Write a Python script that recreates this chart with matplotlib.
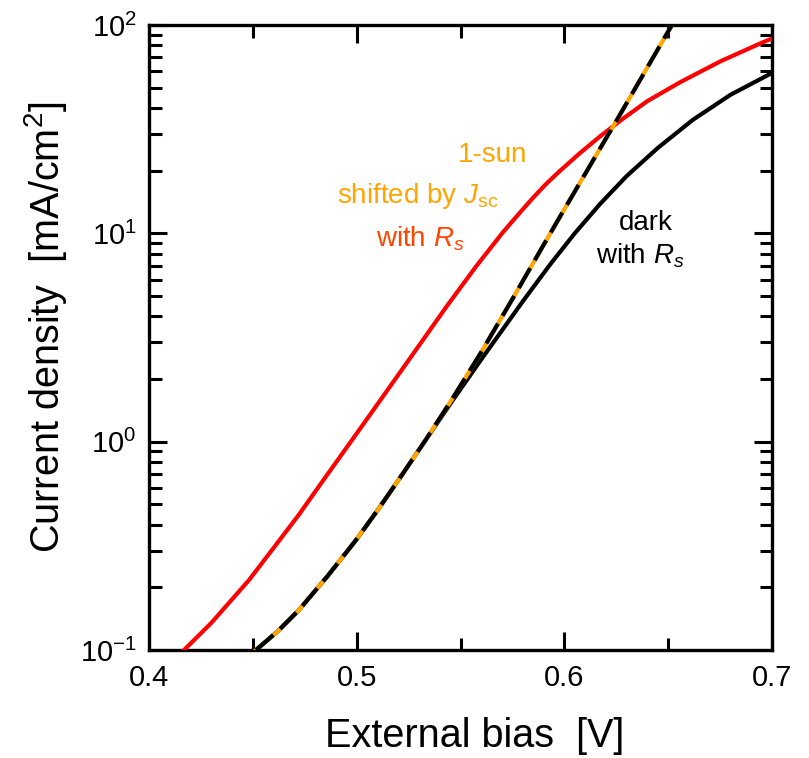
import matplotlib
matplotlib.use("Agg")
import matplotlib.pyplot as plt
from matplotlib.ticker import LogLocator, MultipleLocator, NullFormatter, FuncFormatter

plt.rcParams['font.family'] = ['Liberation Sans', 'DejaVu Sans']
plt.rcParams['mathtext.fontset'] = 'custom'
plt.rcParams['mathtext.rm'] = 'Liberation Sans'
plt.rcParams['mathtext.it'] = 'Liberation Sans:italic'
plt.rcParams['mathtext.bf'] = 'Liberation Sans:bold'

# 1-sun, shifted by Jsc, with Rs (red)  -- log10(J [mA/cm2])
v_light = [0.4169, 0.430, 0.4481, 0.460, 0.4722, 0.485, 0.4997, 0.515, 0.5285,
           0.543, 0.5574, 0.570, 0.5775, 0.5844, 0.591, 0.5979, 0.6075, 0.6175,
           0.6282, 0.640, 0.6557, 0.675, 0.6951, 0.700]
logj_light = [-1.0, -0.87, -0.665, -0.51, -0.35, -0.17, 0.035, 0.25, 0.44,
              0.645, 0.84, 1.00, 1.087, 1.165, 1.235, 1.30, 1.385, 1.468,
              1.55, 1.635, 1.725, 1.825, 1.915, 1.935]

# dark with Rs (black solid)
v_dark = [0.4515, 0.462, 0.4722, 0.486, 0.4997, 0.510, 0.5204, 0.533, 0.546,
          0.560, 0.5801, 0.5931, 0.605, 0.6171, 0.630, 0.645, 0.6619, 0.680, 0.700]
logj_dark = [-1.0, -0.91, -0.808, -0.645, -0.472, -0.33, -0.18, 0.005, 0.195,
             0.395, 0.675, 0.85, 1.0, 1.14, 1.275, 1.41, 1.545, 1.665, 1.77]

# dark without Rs (orange/black dashed)
v_ideal = [0.4515, 0.462, 0.4722, 0.486, 0.4997, 0.510, 0.5204, 0.533, 0.546,
           0.560, 0.5753, 0.5883, 0.5979, 0.6268, 0.6518, 0.660]
logj_ideal = [-1.0, -0.91, -0.808, -0.645, -0.472, -0.33, -0.18, 0.005, 0.205,
              0.43, 0.69, 0.915, 1.08, 1.57, 2.0, 2.14]

j_light = [10 ** v for v in logj_light]
j_dark = [10 ** v for v in logj_dark]
j_ideal = [10 ** v for v in logj_ideal]

fig = plt.figure(figsize=(8.09, 7.58), dpi=100)
ax = fig.add_axes([0.1842, 0.1425, 0.9543 - 0.1842, 0.967 - 0.1425])

ax.plot(v_light, j_light, color='#ff0000', lw=3.0, zorder=3, solid_joinstyle='round')
ax.plot(v_dark, j_dark, color='black', lw=3.0, zorder=3, solid_joinstyle='round')
ax.plot(v_ideal, j_ideal, color='#ffa500', lw=3.0, zorder=4)
ax.plot(v_ideal, j_ideal, color='black', lw=3.0, dashes=(5.5, 2.2), zorder=5)

ax.set_yscale('log')
ax.set_xlim(0.4, 0.7)
ax.set_ylim(0.1, 100)

ax.xaxis.set_major_locator(MultipleLocator(0.1))
ax.xaxis.set_minor_locator(MultipleLocator(0.05))
ax.xaxis.set_major_formatter(FuncFormatter(lambda x, p: f"{x:.1f}"))
ax.yaxis.set_major_locator(LogLocator(base=10, numticks=10))
ax.yaxis.set_minor_locator(LogLocator(base=10, subs=range(2, 10), numticks=20))
ax.yaxis.set_minor_formatter(NullFormatter())

for s in ax.spines.values():
    s.set_linewidth(2.4)
ax.tick_params(which='both', direction='in', top=True, right=True, width=2.2)
ax.tick_params(which='major', length=13, labelsize=21)
ax.tick_params(axis='x', which='major', pad=10)
ax.tick_params(axis='y', which='major', pad=9)
ax.tick_params(which='minor', length=9)

ax.set_xlabel('External bias  [V]', fontsize=28.5)
ax.xaxis.set_label_coords(0.523, -0.108)
ax.set_ylabel('Current density  [mA/cm$^2$]', fontsize=28.5)
ax.yaxis.set_label_coords(-0.128, 0.517)

kw = dict(fontsize=20, ha='center', va='baseline')
ax.text(0.5656, 22.0, '1-sun', color='#ffa500', **kw)
ax.text(0.5293, 13.93, r'shifted by $J_{\rm sc}$', color='#ffa500', **kw)
ax.text(0.5305, 8.67, r'with $R_s$', color='#ff4500', **kw)
ax.text(0.6393, 10.38, 'dark', color='black', **kw)
ax.text(0.6364, 7.20, r'with $R_s$', color='black', **kw)

fig.savefig('out.png', dpi=100)
